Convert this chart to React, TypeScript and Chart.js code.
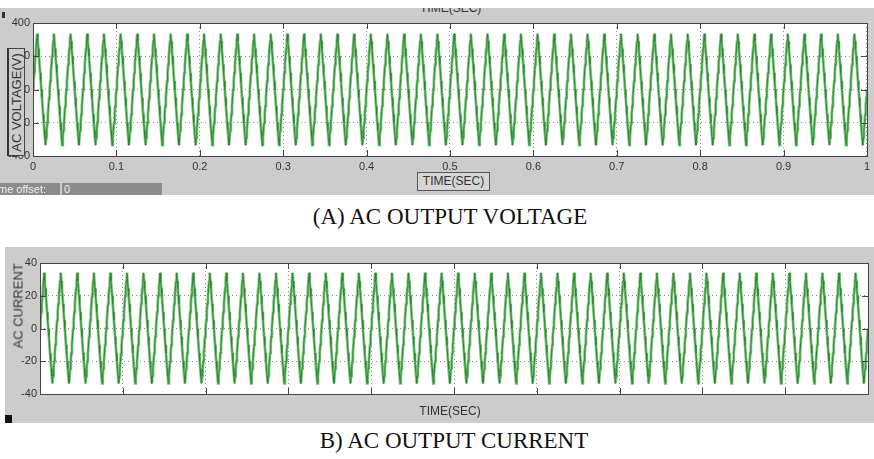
import React, { useEffect, useRef } from "react";
import { Chart, registerables } from "chart.js";

Chart.register(...registerables);

// ---- data ----
const timeTicks = [0, 0.1, 0.2, 0.3, 0.4, 0.5, 0.6, 0.7, 0.8, 0.9, 1];
const voltageTicks = [-400, -200, 0, 200, 400];
const currentTicks = [-40, -20, 0, 20, 40];
const period = 0.02; // 50 Hz
const cycles = 50;
// one period of the stepped inverter waveform
const voltageCycle = [0, 50, 100, 150, 200, 245, 290, 335, 290, 245, 200, 150, 100, 50,
  0, -50, -100, -150, -200, -245, -290, -335, -290, -245, -200, -150, -100, -50];
const currentCycle = [0, 5, 10, 15, 20, 24.5, 29, 34, 29, 24.5, 20, 15, 10, 5,
  0, -5, -10, -15, -20, -24.5, -29, -33.5, -29, -24.5, -20, -15, -10, -5];

function buildSeries(cycle: number[]) {
  const pts: { x: number; y: number }[] = [];
  const n = cycle.length;
  for (let c = 0; c < cycles; c++) {
    for (let i = 0; i < n; i++) {
      pts.push({ x: (c * n + i) * (period / n), y: cycle[i] });
    }
  }
  pts.push({ x: 1, y: cycle[0] });
  return pts;
}

const innerTicks = {
  id: "innerTicks",
  afterDatasetsDraw(chart: any) {
    const { ctx, chartArea: a, scales } = chart;
    ctx.save();
    ctx.strokeStyle = "#444";
    ctx.lineWidth = 1;
    ctx.beginPath();
    const xs = scales.x;
    const ys = scales.y;
    for (const t of xs.ticks) {
      const px = Math.round(xs.getPixelForValue(t.value)) + 0.5;
      ctx.moveTo(px, a.bottom);
      ctx.lineTo(px, a.bottom - 6);
      ctx.moveTo(px, a.top);
      ctx.lineTo(px, a.top + 6);
    }
    for (const t of ys.ticks) {
      const py = Math.round(ys.getPixelForValue(t.value)) + 0.5;
      ctx.moveTo(a.left, py);
      ctx.lineTo(a.left + 6, py);
      ctx.moveTo(a.right, py);
      ctx.lineTo(a.right - 6, py);
    }
    ctx.stroke();
    ctx.strokeRect(Math.round(a.left) + 0.5, Math.round(a.top) + 0.5,
      Math.round(a.right - a.left), Math.round(a.bottom - a.top));
    ctx.restore();
  },
};

const whiteArea = {
  id: "whiteArea",
  beforeDraw(chart: any) {
    const { ctx, chartArea: a } = chart;
    ctx.save();
    ctx.fillStyle = "#ffffff";
    ctx.fillRect(a.left, a.top, a.right - a.left, a.bottom - a.top);
    ctx.restore();
  },
};

type PanelProps = {
  cycle: number[];
  yTicks: number[];
  showXLabels: boolean;
  width: number;
  height: number;
  yWidth: number;
  xHeight: number;
  padTop: number;
  padRight: number;
};

function ScopeChart(p: PanelProps) {
  const ref = useRef<HTMLCanvasElement>(null);
  useEffect(() => {
    const data = buildSeries(p.cycle);
    const yMin = p.yTicks[0];
    const yMax = p.yTicks[p.yTicks.length - 1];
    const chart = new Chart(ref.current!, {
      type: "line",
      data: {
        datasets: [
          {
            data,
            borderColor: "#2a8a30",
            borderWidth: 1,
            pointRadius: 0,
            tension: 0,
            order: 0,
          },
          {
            data,
            borderColor: "rgba(120,192,120,0.95)",
            borderWidth: 2.8,
            pointRadius: 0,
            tension: 0,
            order: 1,
          },
        ],
      },
      options: {
        responsive: false,
        animation: false,
        parsing: false,
        normalized: true,
        devicePixelRatio: 1,
        layout: { padding: { top: p.padTop, right: p.padRight, left: 0, bottom: 0 } },
        plugins: { legend: { display: false }, tooltip: { enabled: false } },
        scales: {
          x: {
            type: "linear",
            min: 0,
            max: 1,
            afterFit: (s: any) => { s.height = p.xHeight; },
            afterBuildTicks: (s: any) => { s.ticks = timeTicks.map((v) => ({ value: v })); },
            ticks: {
              display: p.showXLabels,
              padding: 4,
              color: "#333",
              maxRotation: 0,
              autoSkip: false,
              font: { family: "Liberation Sans, Arial, sans-serif", size: 11 },
              callback: (v: any) => Number(Number(v).toFixed(1)).toString(),
            },
            grid: { color: "#8a8a8a", lineWidth: 1, drawTicks: false },
            border: { display: false, dash: [1, 3] },
          },
          y: {
            type: "linear",
            min: yMin,
            max: yMax,
            afterFit: (s: any) => { s.width = p.yWidth; },
            afterBuildTicks: (s: any) => { s.ticks = p.yTicks.map((v) => ({ value: v })); },
            ticks: {
              padding: 3,
              color: "#333",
              font: { family: "Liberation Sans, Arial, sans-serif", size: 11 },
            },
            grid: { color: "#8a8a8a", lineWidth: 1, drawTicks: false },
            border: { display: false, dash: [1, 3] },
          },
        },
      },
      plugins: [whiteArea, innerTicks],
    } as any);
    return () => chart.destroy();
  }, []);
  return (
    <canvas
      ref={ref}
      width={p.width}
      height={p.height}
      style={{ width: p.width, height: p.height, display: "block" }}
    />
  );
}

const sans = "Liberation Sans, Arial, sans-serif";
const serif = "Liberation Serif, Times New Roman, serif";

export default function App() {
  return (
    <div style={{ position: "absolute", left: 0, top: 0, width: 874, height: 459, background: "#fff", overflow: "hidden" }}>
      {/* panel A */}
      <div style={{ position: "absolute", left: 0, top: 8, width: 874, height: 187, background: "#cccccc", overflow: "hidden" }}>
        <div style={{ position: "absolute", left: 420, top: -7, fontFamily: sans, fontSize: 12, color: "#333" }}>TIME(SEC)</div>
        <div style={{ position: "absolute", left: 0, top: 0 }}>
          <ScopeChart cycle={voltageCycle} yTicks={voltageTicks} showXLabels={true} width={874} height={187}
            yWidth={33} xHeight={39} padTop={15} padRight={4} />
        </div>
        <div style={{ position: "absolute", left: 2, top: 4, width: 3, height: 6, background: "#333" }} />
        <div style={{ position: "absolute", left: 7, top: 40, width: 15, height: 106, border: "1px solid #444", borderLeft: "2px solid #333", background: "#cccccc", display: "flex", alignItems: "center", justifyContent: "center" }}>
          <div style={{ transform: "rotate(-90deg)", whiteSpace: "nowrap", fontFamily: sans, fontSize: 13, color: "#333" }}>AC VOLTAGE(V)</div>
        </div>
        <div style={{ position: "absolute", left: 417, top: 164, width: 71, height: 17, border: "1px solid #555", background: "#d6d6d6", fontFamily: sans, fontSize: 12, color: "#333", lineHeight: "17px", textAlign: "center" }}>TIME(SEC)</div>
        <div style={{ position: "absolute", left: 0, top: 175, width: 60, height: 12, background: "#8c8c8c", fontFamily: sans, fontSize: 11, color: "#eee", lineHeight: "12px", whiteSpace: "nowrap", overflow: "hidden" }}>
          <span style={{ marginLeft: -2 }}>me offset:</span>
        </div>
        <div style={{ position: "absolute", left: 62, top: 175, width: 98, height: 12, background: "#8c8c8c", fontFamily: sans, fontSize: 11, color: "#eee", lineHeight: "12px", paddingLeft: 2 }}>0</div>
      </div>
      <div style={{ position: "absolute", left: 0, top: 203, width: 900, textAlign: "center", fontFamily: serif, fontSize: 23, lineHeight: "28px", color: "#111" }}>(A) AC OUTPUT VOLTAGE</div>

      {/* panel B */}
      <div style={{ position: "absolute", left: 5, top: 247, width: 869, height: 176, background: "#cccccc" }} />
      <div style={{ position: "absolute", left: 0, top: 247 }}>
        <ScopeChart cycle={currentCycle} yTicks={currentTicks} showXLabels={false} width={874} height={176}
          yWidth={40} xHeight={29} padTop={16} padRight={6} />
      </div>
      <div style={{ position: "absolute", left: 18, top: 309, width: 0, height: 0 }}>
        <div style={{ position: "absolute", left: -40, top: -8, width: 80, textAlign: "center", transform: "rotate(-90deg)", whiteSpace: "nowrap", fontFamily: sans, fontSize: 13, color: "#333" }}>AC CURRENT</div>
      </div>
      <div style={{ position: "absolute", left: 400, top: 404, width: 100, textAlign: "center", fontFamily: sans, fontSize: 12, color: "#333" }}>TIME(SEC)</div>
      <div style={{ position: "absolute", left: 5, top: 415, width: 7, height: 8, background: "#111" }} />
      <div style={{ position: "absolute", left: 0, top: 427, width: 908, textAlign: "center", fontFamily: serif, fontSize: 23, lineHeight: "28px", color: "#111" }}>B) AC OUTPUT CURRENT</div>
    </div>
  );
}
